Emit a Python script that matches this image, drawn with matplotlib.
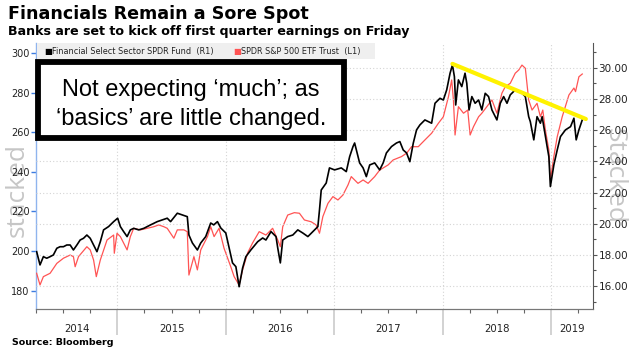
import matplotlib
matplotlib.use("Agg")
import matplotlib.pyplot as plt
from matplotlib.patches import Rectangle
from matplotlib.ticker import FixedLocator, FormatStrFormatter, NullFormatter
import matplotlib.transforms as mtrans

title = "Financials Remain a Sore Spot"
subtitle = "Banks are set to kick off first quarter earnings on Friday"
source = "Source: Bloomberg"
note_lines = ["Not expecting \u2018much\u2019; as", "\u2018basics\u2019 are little changed."]
series_names = ["Financial Select Sector SPDR Fund  (R1)", "SPDR S&P 500 ETF Trust  (L1)"]
years = [2014, 2015, 2016, 2017, 2018, 2019]

# Financial Select Sector SPDR (right axis), time in decimal years
xlf_t = [2014.256, 2014.287, 2014.318, 2014.349, 2014.380, 2014.410, 2014.442, 2014.472, 2014.503, 2014.534,
         2014.565, 2014.595, 2014.627, 2014.657, 2014.688, 2014.719, 2014.750, 2014.781, 2014.812, 2014.843,
         2014.873, 2014.919, 2014.966, 2015.003, 2015.028, 2015.058, 2015.090, 2015.120, 2015.151, 2015.197,
         2015.244, 2015.306, 2015.368, 2015.414, 2015.460, 2015.491, 2015.553, 2015.599, 2015.645, 2015.660,
         2015.692, 2015.738, 2015.769, 2015.815, 2015.861, 2015.889, 2015.923, 2015.954, 2016.000, 2016.028,
         2016.062, 2016.093, 2016.123, 2016.155, 2016.185, 2016.231, 2016.294, 2016.340, 2016.370, 2016.417,
         2016.463, 2016.479, 2016.503, 2016.525, 2016.571, 2016.618, 2016.664, 2016.710, 2016.757, 2016.803,
         2016.849, 2016.864, 2016.880, 2016.926, 2016.956, 2017.003, 2017.065, 2017.111, 2017.142, 2017.173,
         2017.188, 2017.204, 2017.234, 2017.266, 2017.296, 2017.327, 2017.373, 2017.419, 2017.451, 2017.481,
         2017.528, 2017.574, 2017.605, 2017.636, 2017.667, 2017.697, 2017.729, 2017.759, 2017.790, 2017.836,
         2017.898, 2017.929, 2017.975, 2018.006, 2018.037, 2018.068, 2018.090, 2018.108, 2018.120, 2018.145,
         2018.176, 2018.206, 2018.222, 2018.243, 2018.269, 2018.299, 2018.331, 2018.361, 2018.392, 2018.423,
         2018.454, 2018.500, 2018.531, 2018.562, 2018.593, 2018.623, 2018.669, 2018.701, 2018.731, 2018.762,
         2018.793, 2018.808, 2018.840, 2018.870, 2018.901, 2018.917, 2018.932, 2018.963, 2018.979, 2018.993,
         2019.025, 2019.056, 2019.086, 2019.132, 2019.179, 2019.210, 2019.231, 2019.256, 2019.287]
xlf_v = [18.20, 17.35, 17.88, 17.78, 17.88, 17.99, 18.42, 18.52, 18.52, 18.63,
         18.63, 18.31, 18.63, 18.95, 19.06, 19.27, 19.06, 18.63, 18.20, 18.84,
         19.60, 19.81, 20.13, 20.35, 19.81, 19.49, 19.17, 19.60, 19.70, 19.60,
         19.70, 19.92, 20.13, 20.24, 20.35, 20.13, 20.67, 20.56, 20.45, 19.27,
         18.76, 18.31, 18.76, 19.17, 20.04, 19.92, 20.13, 19.72, 19.40, 18.52,
         17.48, 17.24, 15.95, 17.15, 17.88, 18.31, 18.84, 19.08, 18.95, 19.49,
         19.17, 18.44, 17.48, 18.95, 19.17, 19.27, 19.60, 19.40, 19.17, 19.49,
         19.81, 20.88, 22.16, 22.61, 23.58, 23.45, 23.58, 23.34, 24.30, 24.95,
         25.18, 24.73, 23.90, 23.58, 23.02, 23.77, 23.90, 23.45, 23.90, 24.54,
         24.95, 25.18, 25.27, 24.73, 24.54, 23.98, 25.18, 26.02, 26.34, 26.66,
         26.45, 27.73, 28.05, 27.94, 28.59, 29.66, 30.19, 29.44, 27.62, 29.23,
         28.80, 29.66, 29.02, 27.30, 28.16, 27.73, 27.94, 27.30, 28.37, 28.16,
         27.30, 26.66, 27.73, 28.16, 27.73, 28.27, 28.59, 28.48, 28.38, 28.16,
         26.87, 26.55, 25.38, 26.87, 26.45, 26.87, 26.23, 24.95, 24.30, 22.38,
         23.77, 24.73, 25.59, 26.02, 26.23, 26.77, 25.38, 26.02, 26.66]

# SPDR S&P 500 ETF Trust (left axis)
spy_t = [2014.256, 2014.287, 2014.318, 2014.380, 2014.442, 2014.503, 2014.565, 2014.595, 2014.611, 2014.642,
         2014.719, 2014.750, 2014.781, 2014.806, 2014.843, 2014.905, 2014.966, 2014.972, 2014.997, 2015.028,
         2015.090, 2015.120, 2015.151, 2015.213, 2015.275, 2015.336, 2015.382, 2015.429, 2015.460, 2015.521,
         2015.553, 2015.614, 2015.645, 2015.660, 2015.706, 2015.738, 2015.769, 2015.831, 2015.861, 2015.892,
         2015.938, 2015.984, 2016.046, 2016.077, 2016.123, 2016.155, 2016.201, 2016.247, 2016.308, 2016.370,
         2016.432, 2016.479, 2016.503, 2016.525, 2016.571, 2016.632, 2016.679, 2016.725, 2016.787, 2016.833,
         2016.864, 2016.895, 2016.942, 2016.988, 2017.034, 2017.080, 2017.127, 2017.157, 2017.219, 2017.266,
         2017.312, 2017.373, 2017.419, 2017.497, 2017.543, 2017.620, 2017.667, 2017.713, 2017.775, 2017.836,
         2017.898, 2017.960, 2018.006, 2018.053, 2018.083, 2018.099, 2018.114, 2018.145, 2018.192, 2018.231,
         2018.253, 2018.284, 2018.331, 2018.361, 2018.407, 2018.454, 2018.500, 2018.546, 2018.577, 2018.623,
         2018.669, 2018.701, 2018.731, 2018.762, 2018.793, 2018.824, 2018.870, 2018.901, 2018.923, 2018.947,
         2018.979, 2018.993, 2019.025, 2019.056, 2019.102, 2019.164, 2019.210, 2019.225, 2019.256, 2019.287]
spy_v = [188.8, 182.9, 187.1, 188.8, 193.8, 196.4, 198.0, 197.2, 192.1, 197.2,
         202.2, 200.6, 195.5, 187.1, 195.5, 205.6, 208.1, 198.9, 209.0, 207.3,
         200.6, 207.3, 211.5, 210.7, 211.5, 212.3, 213.2, 212.3, 211.5, 206.5,
         210.7, 210.7, 209.8, 187.9, 197.2, 190.5, 200.6, 207.3, 212.3, 207.3,
         211.5, 201.4, 192.1, 187.1, 182.9, 190.5, 199.0, 204.1, 209.8, 208.1,
         211.5, 205.6, 202.2, 212.3, 218.2, 219.4, 219.1, 215.7, 214.8, 213.2,
         209.0, 217.4, 224.1, 227.5, 225.8, 228.3, 233.4, 237.6, 234.2, 235.9,
         234.2, 237.6, 240.9, 243.5, 246.0, 247.7, 249.4, 252.7, 252.7, 256.1,
         259.5, 264.5, 267.8, 277.9, 286.4, 276.3, 258.6, 272.9, 269.6, 271.2,
         258.6, 262.8, 267.8, 269.6, 272.9, 276.3, 269.6, 279.7, 283.0, 284.7,
         289.8, 291.4, 293.9, 292.3, 276.3, 271.2, 274.6, 267.8, 271.2, 261.1,
         251.0, 235.9, 247.7, 257.7, 267.8, 278.8, 282.3, 280.5, 288.0, 289.4]

# Hand-drawn trend line on the XLF scale
trend_t = [2018.09, 2019.32]
trend_v = [30.26, 26.72]

left_ticks = [180, 200, 220, 240, 260, 280, 300]
right_ticks = [16, 18, 20, 22, 24, 26, 28, 30]
right_minor = [15, 17, 19, 21, 23, 25, 27, 29, 31]
x_range = (2014.25, 2019.386)
left_range = (170.76, 305.05)
right_range = (14.52, 31.6)

W, H = 632, 356
fig = plt.figure(figsize=(W / 100, H / 100), dpi=100)
fig.patch.set_facecolor("white")

ax = fig.add_axes([36 / W, 1 - 309 / H, (593 - 36) / W, (309 - 43) / H])
ax2 = ax.twinx()

ax.set_xlim(*x_range)
ax.set_ylim(*left_range)
ax2.set_ylim(*right_range)

red = "#ff5454"
ax.plot(spy_t, spy_v, color=red, lw=0.9, zorder=3)
ax2.plot(xlf_t, xlf_v, color="black", lw=1.2, zorder=4)
ax2.plot(trend_t, trend_v, color="#fff200", lw=3.0, solid_capstyle="round", zorder=6)

# spines
for s in ["top"]:
    ax.spines[s].set_visible(False)
    ax2.spines[s].set_visible(False)
ax2.spines["left"].set_visible(False)
ax.spines["right"].set_visible(False)
ax.spines["left"].set_color("#8fb4ee")
ax.spines["left"].set_linewidth(1.0)
ax2.spines["right"].set_color("#555555")
ax2.spines["bottom"].set_color("#777777")
ax.spines["bottom"].set_color("#777777")

# left axis
ax.yaxis.set_major_locator(FixedLocator(left_ticks))
ax.tick_params(axis="y", which="major", direction="out", length=3.5, width=1.0,
               color="#3d7be0", labelsize=7, labelcolor="#222222", pad=1)
# right axis
ax2.yaxis.set_major_locator(FixedLocator(right_ticks))
ax2.yaxis.set_minor_locator(FixedLocator(right_minor))
ax2.yaxis.set_major_formatter(FormatStrFormatter("%.2f"))
ax2.tick_params(axis="y", which="major", direction="out", length=3, width=0.8,
                color="#555555", labelsize=7.5, labelcolor="#222222", pad=1)
ax2.tick_params(axis="y", which="minor", direction="out", length=2, width=0.8, color="#555555")

# x axis: year boundaries and quarters
ax.xaxis.set_major_locator(FixedLocator(years[1:]))
quarters = [y + q / 4 for y in years for q in range(4) if x_range[0] <= y + q / 4 <= x_range[1]]
ax.xaxis.set_minor_locator(FixedLocator(quarters))
ax.xaxis.set_major_formatter(NullFormatter())
ax.tick_params(axis="x", which="major", direction="out", length=19, width=1.3, color="#cfcfcf")
ax.tick_params(axis="x", which="minor", direction="out", length=3, width=0.8, color="#666666")
ax2.tick_params(axis="x", which="both", length=0)

# gridlines
ax.grid(axis="x", which="major", color="#d4d4d4", linestyle=(0, (1, 2)), lw=0.8)
ax.set_axisbelow(True)
for v in right_ticks:
    ax2.axhline(v, color="#d4d4d4", linestyle=(0, (1, 2)), lw=0.8, zorder=1)

trans = mtrans.blended_transform_factory(ax.transData, ax.transAxes)
for y in years:
    a = max(y, x_range[0])
    b = min(y + 1, x_range[1])
    ax.text((a + b) / 2, -0.075, str(y), transform=trans, ha="center", va="center",
            fontsize=7.3, color="#222222")

# legend bar
ax2.add_patch(Rectangle((0.002, 0.938), (375 - 37) / 557, 0.062, transform=ax2.transAxes,
                        facecolor="#efefef", edgecolor="none", zorder=5))
ax2.text((44 - 36) / 557, 0.968, "\u25a0", transform=ax2.transAxes, fontsize=6, color="black",
         va="center", ha="left", zorder=7)
ax2.text((52 - 36) / 557, 0.968, series_names[0], transform=ax2.transAxes, fontsize=5.85,
         color="#222222", va="center", ha="left", zorder=7)
ax2.text((233 - 36) / 557, 0.968, "\u25a0", transform=ax2.transAxes, fontsize=6, color=red,
         va="center", ha="left", zorder=7)
ax2.text((241 - 36) / 557, 0.968, series_names[1], transform=ax2.transAxes, fontsize=5.85,
         color="#222222", va="center", ha="left", zorder=7)

# annotation box
fig.add_artist(Rectangle((38 / W, 1 - 138 / H), (344 - 38) / W, (138 - 62) / H,
                         transform=fig.transFigure, facecolor="white", edgecolor="black",
                         lw=4.2, zorder=10))
fig.text(191 / W, 1 - 96 / H, note_lines[0], ha="center", va="baseline", fontsize=17,
         family="Liberation Sans", color="black", zorder=11)
fig.text(191 / W, 1 - 124.5 / H, note_lines[1], ha="center", va="baseline", fontsize=17,
         family="Liberation Sans", color="black", zorder=11)

# watermarks
fig.text(17 / W, 1 - 190 / H, "stacked", rotation=90, ha="center", va="center", fontsize=19,
         color="#c6c6c6", family="Open Sans", zorder=-1)
fig.text(614 / W, 1 - 176 / H, "Stacked", rotation=270, ha="center", va="center", fontsize=19,
         color="#c6c6c6", family="Open Sans", zorder=-1)

# titles
fig.text(8 / W, 1 - 19 / H, title, fontsize=12.6, fontweight="bold", color="black", va="baseline")
fig.text(8 / W, 1 - 35 / H, subtitle, fontsize=9.1, fontweight="bold", color="black", va="baseline")
fig.text(12 / W, 1 - 345 / H, source, fontsize=6.8, fontweight="bold", color="black", va="baseline")

fig.savefig("out.png", dpi=100)
